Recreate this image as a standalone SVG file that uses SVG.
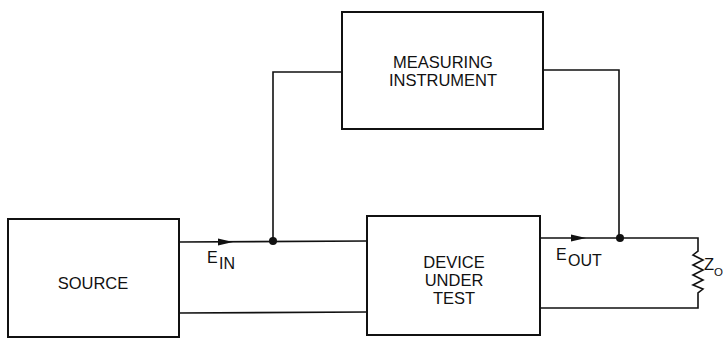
<svg xmlns="http://www.w3.org/2000/svg" width="725" height="342" viewBox="0 0 725 342">
<style>
.box{fill:#fff;stroke:#111;stroke-width:2}
.w{fill:none;stroke:#111;stroke-width:1.6}
text{font-family:"Liberation Sans",Arial,sans-serif;fill:#111;font-size:16.5px}
.c{text-anchor:middle}
.s{font-size:16px}
</style>
<rect width="725" height="342" fill="#fff"/>
<g id="connectors">
<polyline class="w" points="179,242 367,241"/>
<polyline class="w" points="179,313 367,312"/>
<polyline class="w" points="273,241 273,72 342,72"/>
<polyline class="w" points="543,70 619,70 619,238"/>
<polyline class="w" points="540,238 698,238 698,251 693,255 703,260 693,265 703,270 693,275 703,280 693,285 703,289 698,293 698,308 540,308"/>
<polygon points="218,238.5 233,242 218,245.5" fill="#111"/>
<polygon points="571,234.5 586,238 571,241.5" fill="#111"/>
<circle cx="273" cy="241" r="4" fill="#111"/>
<circle cx="620" cy="238" r="4" fill="#111"/>
<text class="s" x="207" y="263">E<tspan x="219" dy="6">IN</tspan></text>
<text class="s" x="556" y="260">E<tspan x="568" dy="6">OUT</tspan></text>
<text x="704" y="270" font-size="15">Z<tspan dy="6" font-size="11.5">O</tspan></text>
</g>
<g id="source">
<rect class="box" x="8" y="219" width="171" height="118"/>
<text class="c" x="93" y="289">SOURCE</text>
</g>
<g id="dut">
<rect class="box" x="367" y="216" width="173" height="119"/>
<text class="c" x="454" y="268">DEVICE</text>
<text class="c" x="454" y="286">UNDER</text>
<text class="c" x="454" y="304">TEST</text>
</g>
<g id="instrument">
<rect class="box" x="342" y="12" width="201" height="117"/>
<text class="c" x="443" y="68">MEASURING</text>
<text class="c" x="443" y="86">INSTRUMENT</text>
</g>
</svg>
